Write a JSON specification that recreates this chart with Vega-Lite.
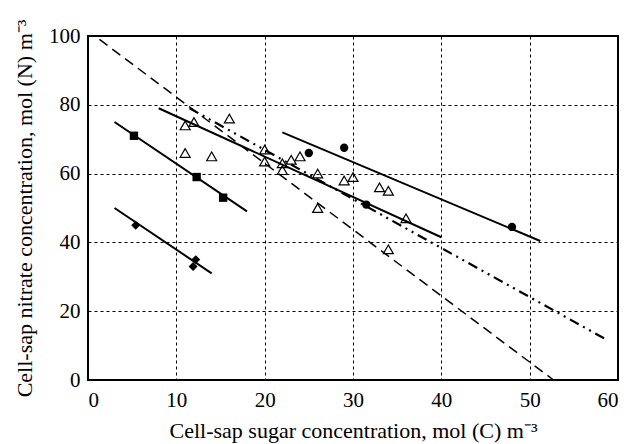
{
  "$schema": "https://vega.github.io/schema/vega-lite/v6.json",
  "width": 530,
  "height": 344,
  "autosize": "none",
  "padding": {"left": 88, "top": 36, "right": 11, "bottom": 64},
  "background": "white",
  "config": {
    "view": {"stroke": "black", "strokeWidth": 2},
    "font": "Liberation Serif",
    "axis": {
      "labelFont": "Liberation Serif",
      "titleFont": "Liberation Serif",
      "labelFontSize": 21,
      "titleFontSize": 22,
      "titleFontWeight": "normal",
      "labelColor": "black",
      "titleColor": "black",
      "domain": false,
      "ticks": false,
      "grid": true,
      "gridColor": "black",
      "gridDash": [3, 3],
      "gridWidth": 1,
      "gridOpacity": 1
    }
  },
  "datasets": {
    "points": [
      {"group": "tri", "x": 11, "y": 74},
      {"group": "tri", "x": 12, "y": 75},
      {"group": "tri", "x": 16, "y": 76},
      {"group": "tri", "x": 11, "y": 66},
      {"group": "tri", "x": 14, "y": 65},
      {"group": "tri", "x": 20, "y": 67},
      {"group": "tri", "x": 20, "y": 63.5},
      {"group": "tri", "x": 22, "y": 63},
      {"group": "tri", "x": 22, "y": 61},
      {"group": "tri", "x": 23, "y": 64},
      {"group": "tri", "x": 24, "y": 65},
      {"group": "tri", "x": 26, "y": 60},
      {"group": "tri", "x": 26, "y": 50},
      {"group": "tri", "x": 29, "y": 58},
      {"group": "tri", "x": 30, "y": 59},
      {"group": "tri", "x": 33, "y": 56},
      {"group": "tri", "x": 34, "y": 55},
      {"group": "tri", "x": 36, "y": 47},
      {"group": "tri", "x": 34, "y": 38},
      {"group": "circle", "x": 25, "y": 66},
      {"group": "circle", "x": 29, "y": 67.5},
      {"group": "circle", "x": 31.5, "y": 51},
      {"group": "circle", "x": 48, "y": 44.5},
      {"group": "square", "x": 5.2, "y": 71},
      {"group": "square", "x": 12.3, "y": 59},
      {"group": "square", "x": 15.3, "y": 53},
      {"group": "diamond", "x": 5.4, "y": 45},
      {"group": "diamond", "x": 12.2, "y": 35},
      {"group": "diamond", "x": 11.9, "y": 33}
    ],
    "lines": [
      {"line": "square", "style": "solid", "x": 3, "y": 75},
      {"line": "square", "style": "solid", "x": 18, "y": 49},
      {"line": "diamond", "style": "solid", "x": 3, "y": 50},
      {"line": "diamond", "style": "solid", "x": 14, "y": 31},
      {"line": "tri", "style": "solid", "x": 8, "y": 79},
      {"line": "tri", "style": "solid", "x": 40, "y": 41.5},
      {"line": "circle", "style": "solid", "x": 22, "y": 72},
      {"line": "circle", "style": "solid", "x": 51.2, "y": 40.4},
      {"line": "dashed", "style": "dashed", "x": 1.3, "y": 99},
      {"line": "dashed", "style": "dashed", "x": 52.7, "y": 0},
      {"line": "dashdot", "style": "dashdot", "x": 11.5, "y": 79},
      {"line": "dashdot", "style": "dashdot", "x": 58.5, "y": 12}
    ]
  },
  "encoding": {
    "x": {
      "field": "x", "type": "quantitative",
      "scale": {"domain": [0, 60], "nice": false},
      "axis": {"values": [0, 10, 20, 30, 40, 50, 60], "labelPadding": 9, "titlePadding": 10,
               "title": "Cell-sap sugar concentration, mol (C) m⁻³"}
    },
    "y": {
      "field": "y", "type": "quantitative",
      "scale": {"domain": [0, 100], "nice": false},
      "axis": {"values": [0, 20, 40, 60, 80, 100], "labelPadding": 8, "titlePadding": 12,
               "title": "Cell-sap nitrate concentration, mol (N) m⁻³"}
    }
  },
  "layer": [
    {
      "data": {"name": "lines"},
      "transform": [{"filter": "datum.style == 'solid'"}],
      "mark": {"type": "line", "color": "black", "strokeWidth": 2},
      "encoding": {"detail": {"field": "line"}}
    },
    {
      "data": {"name": "lines"},
      "transform": [{"filter": "datum.style == 'dashed'"}],
      "mark": {"type": "line", "color": "black", "strokeWidth": 1.5, "strokeDash": [10, 6]},
      "encoding": {"detail": {"field": "line"}}
    },
    {
      "data": {"name": "lines"},
      "transform": [{"filter": "datum.style == 'dashdot'"}],
      "mark": {"type": "line", "color": "black", "strokeWidth": 2.2, "strokeDash": [10, 5, 2, 5, 2, 5]},
      "encoding": {"detail": {"field": "line"}}
    },
    {
      "data": {"name": "points"},
      "transform": [{"filter": "datum.group == 'tri'"}],
      "mark": {"type": "point", "shape": "triangle-up", "filled": false, "color": "black", "strokeWidth": 1.2, "size": 100, "opacity": 1}
    },
    {
      "data": {"name": "points"},
      "transform": [{"filter": "datum.group == 'circle'"}],
      "mark": {"type": "point", "shape": "circle", "filled": true, "color": "black", "size": 70, "opacity": 1}
    },
    {
      "data": {"name": "points"},
      "transform": [{"filter": "datum.group == 'square'"}],
      "mark": {"type": "point", "shape": "square", "filled": true, "color": "black", "size": 70, "opacity": 1}
    },
    {
      "data": {"name": "points"},
      "transform": [{"filter": "datum.group == 'diamond'"}],
      "mark": {"type": "point", "shape": "diamond", "filled": true, "color": "black", "size": 80, "opacity": 1}
    }
  ]
}
